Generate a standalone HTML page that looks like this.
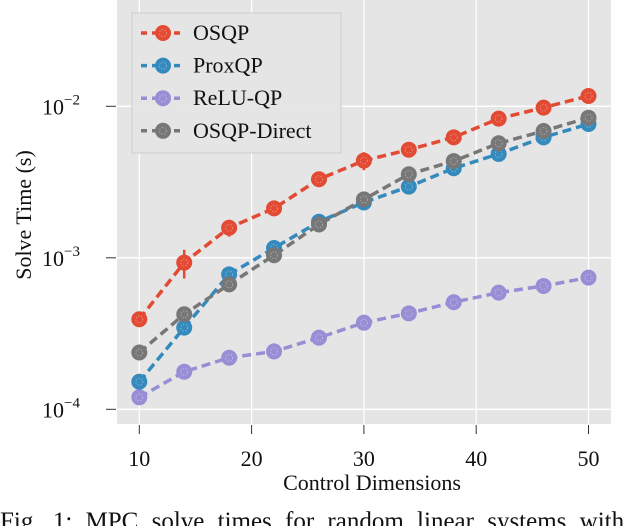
<!DOCTYPE html>
<html><head><meta charset="utf-8"><style>
body{margin:0;background:#fff;width:640px;height:526px;overflow:hidden;font-family:"Liberation Serif",serif;}
svg text{font-family:"Liberation Serif",serif;fill:#111;}
</style></head><body>
<svg id="chart" width="640" height="526" viewBox="0 0 640 526" xmlns="http://www.w3.org/2000/svg">
<rect x="117" y="0" width="494" height="424" fill="#E5E5E5"/>
<g id="grid"></g><g id="series"></g><g id="axes"></g>
<text x="0" y="0" font-size="22" text-anchor="middle" transform="translate(31,215) rotate(-90)">Solve Time (s)</text>
<text x="372" y="490" font-size="22" text-anchor="middle">Control Dimensions</text>
<text x="0" y="529" font-size="25" word-spacing="7">Fig. 1: MPC solve times for random linear systems with</text>
<g id="legend"></g>
</svg>
<script>
const dims=[10,14,18,22,26,30,34,38,42,46,50];
const osqp=[3.93e-4,9.3e-4,1.58e-3,2.12e-3,3.3e-3,4.38e-3,5.17e-3,6.24e-3,8.29e-3,9.8e-3,1.17e-2];
const osqpErr=[0,2.0e-4,2.0e-4,0,0,6e-4,0,0,0,0,0];
const proxqp=[1.52e-4,3.46e-4,7.78e-4,1.16e-3,1.73e-3,2.32e-3,2.95e-3,3.9e-3,4.85e-3,6.24e-3,7.64e-3];
const reluqp=[1.2e-4,1.77e-4,2.19e-4,2.41e-4,2.97e-4,3.73e-4,4.3e-4,5.09e-4,5.89e-4,6.52e-4,7.4e-4];
const osqpDirect=[2.37e-4,4.24e-4,6.68e-4,1.04e-3,1.66e-3,2.43e-3,3.56e-3,4.35e-3,5.7e-3,6.87e-3,8.41e-3];
const xTicks=[10,20,30,40,50];
const yTicks=[-4,-3,-2];
const seriesNames=["OSQP","ProxQP","ReLU-QP","OSQP-Direct"];
const NS="http://www.w3.org/2000/svg";
function xs(v){return 139.3+(v-10)*11.23;}
function ys(v){return 106.3-(Math.log10(v)+2)*151.5;}
function mk(t,a,p){const e=document.createElementNS(NS,t);for(const k in a)e.setAttribute(k,a[k]);p.appendChild(e);return e;}
const grid=document.getElementById('grid'),axes=document.getElementById('axes'),ser=document.getElementById('series'),leg=document.getElementById('legend');
xTicks.forEach(t=>{const x=xs(t);
 const g=mk('line',{x1:x,x2:x,y1:0,y2:424,stroke:'#fff','stroke-width':1.3},grid);
 
 
 const tk=mk('line',{x1:x,x2:x,y1:425,y2:434,stroke:'#333','stroke-width':1},axes);
 
 
 const tx=mk('text',{x:x,y:466,'font-size':22,'text-anchor':'middle'},axes);tx.textContent=t;
 
 
});
yTicks.forEach(t=>{const y=ys(Math.pow(10,t));
 const g=mk('line',{x1:117,x2:611,y1:y,y2:y,stroke:'#fff','stroke-width':1.3},grid);
 
 
 const tk=mk('line',{x1:106,x2:116,y1:y,y2:y,stroke:'#333','stroke-width':1},axes);
 
 
 const tx=mk('text',{x:42,y:y+8,'font-size':22},axes);
 tx.innerHTML='10<tspan font-size="15" dy="-10">\u2212'+(-t)+'</tspan>';
 
 
});
const colors=['#E24A33','#348ABD','#988ED5','#777777'];
const data=[osqp,proxqp,reluqp,osqpDirect];
const order=[2,1,3,0];
function marker(x,y,c,p){
 const m=mk('circle',{cx:x,cy:y,r:8,fill:c},p);
 
 
 mk('circle',{cx:x,cy:y,r:3.5,fill:'none',stroke:'rgba(255,255,255,0.35)','stroke-width':1,'stroke-dasharray':'1.5 1.5'},p);
}
order.forEach(i=>{
 const g=mk('g',{},ser);
 
 
 const pts=dims.map((d,j)=>xs(d)+','+ys(data[i][j])).join(' ');
 mk('polyline',{points:pts,fill:'none',stroke:colors[i],'stroke-width':3.5,'stroke-dasharray':'9 5'},g);
 if(i===0){dims.forEach((d,j)=>{if(osqpErr[j]>0){const x=xs(d);
  const e=mk('line',{x1:x,x2:x,y1:ys(data[i][j]+osqpErr[j]),y2:ys(data[i][j]-osqpErr[j]),stroke:colors[i],'stroke-width':2.5},g);
  
  }});}
 dims.forEach((d,j)=>marker(xs(d),ys(data[i][j]),colors[i],g));
});
const box=mk('rect',{x:132,y:13,width:209,height:140,fill:'#E5E5E5',stroke:'#ccc','stroke-width':1,opacity:0.95},leg);


seriesNames.forEach((n,i)=>{const y=33+i*32.6;
 const g=mk('g',{},leg);
 
 
 mk('line',{x1:141,x2:180,y1:y,y2:y,stroke:colors[i],'stroke-width':3.5,'stroke-dasharray':'6 5'},g);
 marker(163,y,colors[i],g);
 const t=mk('text',{x:193,y:y+7,'font-size':22},g);t.textContent=n;
});
</script>
</body></html>
